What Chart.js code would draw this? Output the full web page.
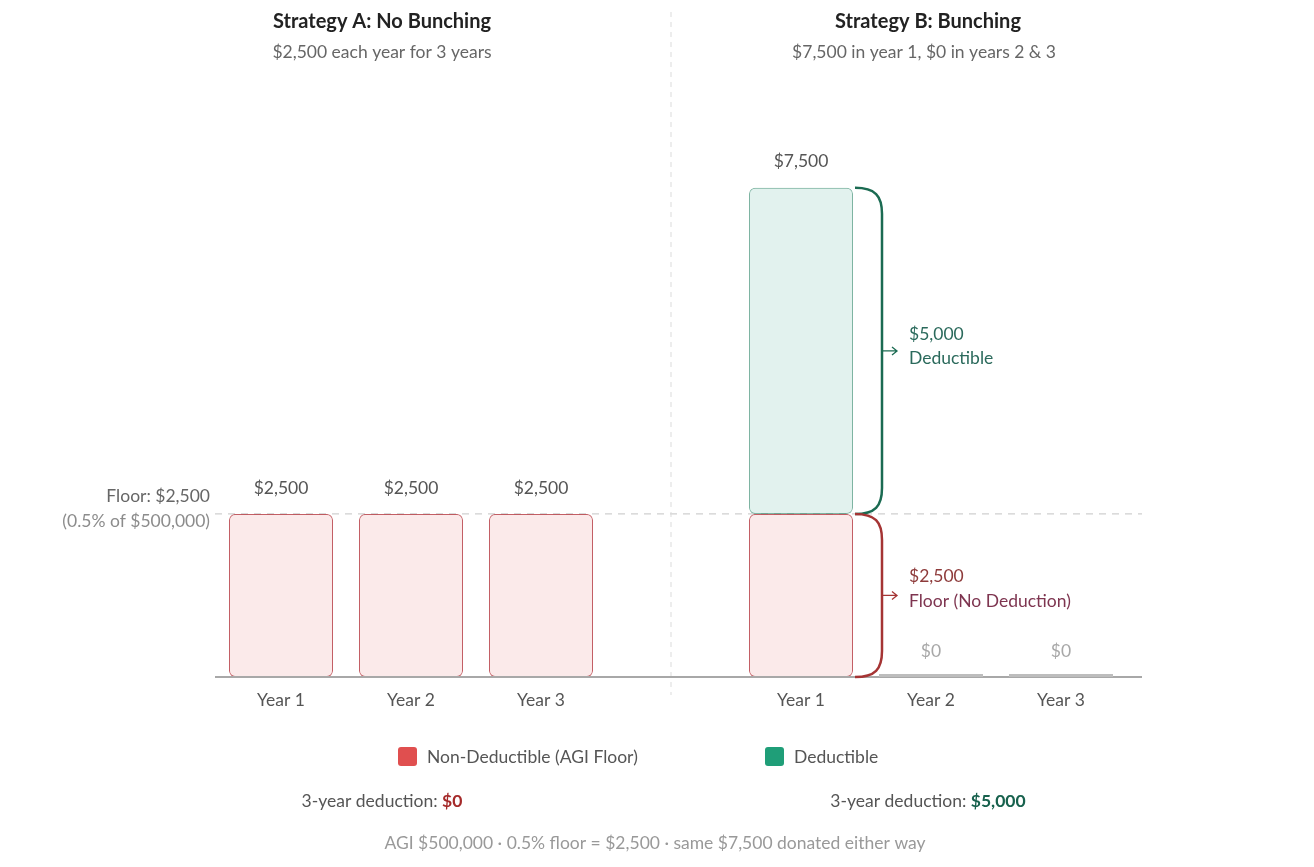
<!DOCTYPE html>
<html>
<head>
<meta charset="utf-8">
<script src="https://cdn.jsdelivr.net/npm/chart.js@4.4.1/dist/chart.umd.min.js"></script>
<style>
  html, body { margin: 0; padding: 0; background: #fff; }
  #wrap { width: 1314px; height: 867px; position: relative; }
</style>
</head>
<body>
<div id="wrap"><canvas id="bunchingChart"></canvas></div>
<script>
// DATA
const categories = ['Year 1', 'Year 2', 'Year 3', '', 'Year 1', 'Year 2', 'Year 3'];
const nonDeductible = [2500, 2500, 2500, null, 2500, 0, 0];
const deductible = [0, 0, 0, null, 5000, 0, 0];
const floorValue = 2500;
const agi = 500000;
const floorPct = 0.5;
const yMax = 9000;

const FONT = 'Lato, "Open Sans", sans-serif';
const BODY = 17.5;
const RED = '#e04f4f';
const GREEN = '#1f9e78';

function money(v) {
    return '$' + v.toLocaleString('en-US');
}

function text(ctx, s, x, y, opt) {
    opt = opt || {};
    ctx.save();
    ctx.font = (opt.weight || 'normal') + ' ' + (opt.size || BODY) + 'px ' + FONT;
    ctx.fillStyle = opt.color || '#555';
    ctx.textAlign = opt.align || 'center';
    ctx.textBaseline = 'middle';
    ctx.fillText(s, x, y);
    ctx.restore();
}

// text made of parts (different weight/colour), centred on x
function mixedText(ctx, parts, x, y, size) {
    ctx.save();
    let total = 0;
    parts.forEach(p => {
        ctx.font = (p.weight || 'normal') + ' ' + size + 'px ' + FONT;
        p.w = ctx.measureText(p.s).width;
        total += p.w;
    });
    let cx = x - total / 2;
    ctx.textBaseline = 'middle';
    ctx.textAlign = 'left';
    parts.forEach(p => {
        ctx.font = (p.weight || 'normal') + ' ' + size + 'px ' + FONT;
        ctx.fillStyle = p.color;
        ctx.fillText(p.s, cx, y);
        cx += p.w;
    });
    ctx.restore();
}

function bracket(ctx, x, yTop, yBot, color) {
    const w = 27, r = 26;
    ctx.save();
    ctx.strokeStyle = color;
    ctx.lineWidth = 2.5;
    ctx.beginPath();
    ctx.moveTo(x, yTop);
    ctx.bezierCurveTo(x + w * 0.75, yTop, x + w, yTop + r * 0.3, x + w, yTop + r);
    ctx.lineTo(x + w, yBot - r);
    ctx.bezierCurveTo(x + w, yBot - r * 0.3, x + w * 0.75, yBot, x, yBot);
    ctx.stroke();
    // arrow
    const mid = (yTop + yBot) / 2;
    ctx.lineWidth = 1.3;
    ctx.beginPath();
    ctx.moveTo(x + w, mid);
    ctx.lineTo(x + w + 15, mid);
    ctx.moveTo(x + w + 10, mid - 4);
    ctx.lineTo(x + w + 15, mid);
    ctx.lineTo(x + w + 10, mid + 4);
    ctx.stroke();
    ctx.restore();
    return { x: x + w + 27, mid: mid };
}

const annotations = {
    id: 'annotations',
    beforeDatasetsDraw(chart) {
        const ctx = chart.ctx;
        const area = chart.chartArea;
        const x = chart.scales.x, y = chart.scales.y;
        const yFloor = y.getPixelForValue(floorValue);
        ctx.save();
        // floor line
        ctx.strokeStyle = '#cfcfcf';
        ctx.lineWidth = 1.3;
        ctx.setLineDash([7, 6]);
        ctx.beginPath();
        ctx.moveTo(area.left - 1, yFloor);
        ctx.lineTo(area.right + 16, yFloor);
        ctx.stroke();
        // divider between the two strategies
        const xd = x.getPixelForValue(3);
        ctx.strokeStyle = '#dcdcdc';
        ctx.lineWidth = 1;
        ctx.setLineDash([5, 5]);
        ctx.beginPath();
        ctx.moveTo(xd, 12);
        ctx.lineTo(xd, area.bottom + 18);
        ctx.stroke();
        ctx.restore();
    },
    afterDatasetsDraw(chart) {
        const ctx = chart.ctx;
        const area = chart.chartArea;
        const y = chart.scales.y;
        const metaA = chart.getDatasetMeta(0);
        const metaB = chart.getDatasetMeta(1);
        const y0 = y.getPixelForValue(0);

        // baseline
        ctx.save();
        ctx.strokeStyle = '#a8a8a8';
        ctx.lineWidth = 2;
        ctx.beginPath();
        ctx.moveTo(area.left - 1, y0);
        ctx.lineTo(area.right + 16, y0);
        ctx.stroke();
        ctx.restore();

        // totals above bars, zero markers
        categories.forEach((c, i) => {
            if (nonDeductible[i] === null) return;
            const total = (nonDeductible[i] || 0) + (deductible[i] || 0);
            const bar = metaA.data[i];
            const bx = bar.x;
            const bw = bar.width || 104;
            if (total === 0) {
                ctx.save();
                ctx.strokeStyle = '#bdbdbd';
                ctx.lineWidth = 3;
                ctx.beginPath();
                ctx.moveTo(bx - bw / 2, y0 - 1.5);
                ctx.lineTo(bx + bw / 2, y0 - 1.5);
                ctx.stroke();
                ctx.restore();
                text(ctx, money(0), bx, y0 - 26, { color: '#a8a8a8' });
            } else {
                text(ctx, money(total), bx, y.getPixelForValue(total) - 26, { color: '#555' });
            }
        });

        // brackets on the bunched year
        const iB = 4;
        const bar = metaB.data[iB];
        const right = bar.x + bar.width / 2 + 2;
        const yFloor = y.getPixelForValue(floorValue);
        const yTop = y.getPixelForValue(nonDeductible[iB] + deductible[iB]);
        const g = bracket(ctx, right, yTop, yFloor, '#1b6b52');
        text(ctx, money(deductible[iB]), g.x, g.mid - 17, { color: '#2b6a5c', align: 'left' });
        text(ctx, 'Deductible', g.x, g.mid + 7, { color: '#2b6a5c', align: 'left' });
        const r = bracket(ctx, right, yFloor, y0, '#a53434');
        text(ctx, money(floorValue), r.x, r.mid - 19, { color: '#8e3b3b', align: 'left' });
        text(ctx, 'Floor (No Deduction)', r.x, r.mid + 6, { color: '#7e3550', align: 'left' });

        // floor label
        text(ctx, 'Floor: ' + money(floorValue), area.left - 6, yFloor - 18, { color: '#666', align: 'right' });
        text(ctx, '(' + floorPct + '% of ' + money(agi) + ')', area.left - 6, yFloor + 7, { color: '#8c8c8c', align: 'right' });
    },
    afterDraw(chart) {
        const ctx = chart.ctx;
        const xA = 382, xB = 928;
        text(ctx, 'Strategy A: No Bunching', xA, 22, { size: 20, weight: 'bold', color: '#222' });
        text(ctx, money(floorValue) + ' each year for 3 years', xA, 52, { color: '#666' });
        text(ctx, 'Strategy B: Bunching', xB, 22, { size: 20, weight: 'bold', color: '#222' });
        text(ctx, money(floorValue * 3) + ' in year 1, $0 in years 2 & 3', xB - 4, 52, { color: '#666' });

        // legend
        const items = [
            { label: 'Non-Deductible (AGI Floor)', color: RED, x: 398 },
            { label: 'Deductible', color: GREEN, x: 765 }
        ];
        items.forEach(it => {
            ctx.save();
            ctx.fillStyle = it.color;
            ctx.beginPath();
            ctx.roundRect(it.x, 747, 19, 19, 3);
            ctx.fill();
            ctx.restore();
            text(ctx, it.label, it.x + 29, 757, { color: '#555', align: 'left' });
        });

        // totals per strategy
        const sumA = deductible.slice(0, 3).reduce((a, b) => a + (b || 0), 0);
        const sumB = deductible.slice(4).reduce((a, b) => a + (b || 0), 0);
        mixedText(ctx, [
            { s: '3-year deduction: ', color: '#555' },
            { s: money(sumA), color: '#a52a2a', weight: 'bold' }
        ], xA, 801, BODY);
        mixedText(ctx, [
            { s: '3-year deduction: ', color: '#555' },
            { s: money(sumB), color: '#17614d', weight: 'bold' }
        ], xB, 801, BODY);

        text(ctx, 'AGI ' + money(agi) + ' \u00b7 ' + floorPct + '% floor = ' + money(floorValue) +
            ' \u00b7 same ' + money(floorValue * 3) + ' donated either way', 655, 843, { color: '#999' });
    }
};

const radius = { topLeft: 6, topRight: 6, bottomLeft: 6, bottomRight: 6 };

const chartCtx = document.getElementById('bunchingChart').getContext('2d');
const bunchingChart = new Chart(chartCtx, {
    type: 'bar',
    data: {
        labels: categories,
        datasets: [{
            label: 'Non-Deductible (AGI Floor)',
            data: nonDeductible.map(v => v || null),
            backgroundColor: 'rgba(224,79,79,0.12)',
            borderColor: 'rgba(180,55,62,0.8)',
            borderWidth: 1,
            borderRadius: radius,
            borderSkipped: false
        }, {
            label: 'Deductible',
            data: deductible.map(v => v || null),
            backgroundColor: 'rgba(31,158,120,0.13)',
            borderColor: 'rgba(40,130,100,0.6)',
            borderWidth: 1,
            borderRadius: radius,
            borderSkipped: false
        }]
    },
    options: {
        responsive: true,
        maintainAspectRatio: false,
        animation: false,
        barPercentage: 1,
        categoryPercentage: 0.8,
        layout: {
            padding: { left: 216, right: 188, top: 90, bottom: 150 }
        },
        plugins: {
            legend: { display: false },
            tooltip: { enabled: false }
        },
        scales: {
            x: {
                stacked: true,
                grid: { display: false, drawTicks: false },
                border: { display: false },
                ticks: {
                    padding: 13,
                    color: '#555',
                    font: { family: FONT, size: BODY }
                },
                afterFit(scale) { scale.height = 40; }
            },
            y: {
                stacked: true,
                display: false,
                min: 0,
                max: yMax
            }
        }
    },
    plugins: [annotations]
});
</script>
</body>
</html>
